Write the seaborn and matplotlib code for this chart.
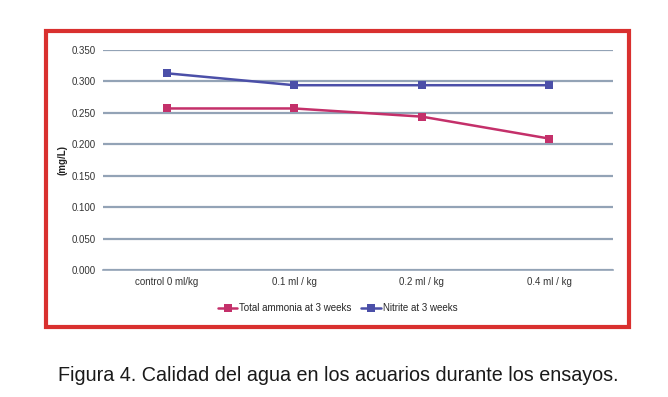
import matplotlib
matplotlib.use("Agg")
import matplotlib.pyplot as plt
import seaborn as sns
import pandas as pd
from matplotlib.patches import Rectangle

categories = ["control 0 ml/kg", "0.1 ml / kg", "0.2 ml / kg", "0.4 ml / kg"]
ammonia = [0.257, 0.257, 0.244, 0.209]
nitrite = [0.313, 0.294, 0.294, 0.294]
series_names = ["Total ammonia at 3 weeks", "Nitrite at 3 weeks"]
yticks = [0.0, 0.05, 0.10, 0.15, 0.20, 0.25, 0.30, 0.35]

sns.set_theme(style="white")
plt.rcParams['font.family'] = ['Liberation Sans', 'DejaVu Sans']

df = pd.DataFrame({
    "cat": categories * 2,
    "x": list(range(len(categories))) * 2,
    "value": ammonia + nitrite,
    "series": [series_names[0]] * 4 + [series_names[1]] * 4,
})

fig = plt.figure(figsize=(6.68, 3.97), dpi=100)
ax = fig.add_axes([0.154, 0.320, 0.764, 0.554])

palette = {series_names[0]: "#c4306a", series_names[1]: "#4b4fa8"}
sns.lineplot(data=df, x="x", y="value", hue="series", palette=palette,
             marker="s", markersize=6, markeredgewidth=0, linewidth=1.8,
             ax=ax, legend=True)

ax.set_xlim(-0.5, 3.5)
ax.set_ylim(0, 0.35)
ax.set_yticks(yticks)
ax.set_yticklabels([f"{v:.3f}" for v in yticks], fontsize=7, color="#333333")
ax.set_xticks(range(len(categories)))
ax.set_xticklabels(categories, fontsize=7, color="#333333")
ax.set_xlabel("")
ax.set_ylabel("(mg/L)", fontsize=7, fontweight="bold", labelpad=3, color="#222222")
ax.yaxis.grid(True, color="#93a3b6", linewidth=1.6)
ax.xaxis.grid(False)
for s in ["top", "right", "left"]:
    ax.spines[s].set_visible(False)
ax.spines["bottom"].set_color("#93a3b6")
ax.spines["bottom"].set_linewidth(1.2)
ax.tick_params(axis="both", length=0, pad=5)

leg = ax.legend(loc="upper center", bbox_to_anchor=(0.46, -0.11), ncol=2,
                frameon=False, fontsize=7, handlelength=2.0, columnspacing=1.0,
                handletextpad=0.2)

fig.patches.append(Rectangle((0.069, 0.176), 0.872, 0.746, transform=fig.transFigure,
                             fill=False, edgecolor="#d9302f", linewidth=3.0))

fig.text(0.506, 0.030, "Figura 4. Calidad del agua en los acuarios durante los ensayos.",
         ha="center", va="bottom", fontsize=14.2, color="#1a1a1a")

fig.savefig("out.png", dpi=100, facecolor="white")
